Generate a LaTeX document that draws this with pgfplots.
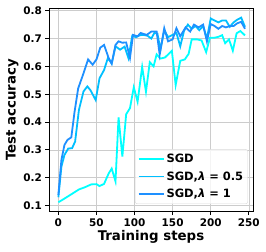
\documentclass[border=0pt]{standalone}
\usepackage{fontspec}
\setmainfont{DejaVu Sans}
\usepackage{pgfplots}
\pgfplotsset{compat=1.18}
\definecolor{cSGD}{RGB}{0,255,255}
\definecolor{cHalf}{RGB}{0,191,255}
\definecolor{cOne}{RGB}{30,144,255}
\begin{document}
\begin{tikzpicture}
\path[use as bounding box] (-49bp,-40.3bp) rectangle (217bp,211.7bp);
\begin{axis}[
  at={(0,0)}, anchor=south west,
  scale only axis, width=204bp, height=203.4bp,
  xmin=-12.3, xmax=255.5, ymin=0.078, ymax=0.8086,
  xtick={0,50,100,150,200,250},
  ytick={0.1,0.2,0.3,0.4,0.5,0.6,0.7,0.8},
  grid=major, major grid style={gray!40, line width=0.6bp},
  axis line style={black, line width=0.8bp},
  tick align=outside, tick pos=left, major tick length=3.5bp,
  tick style={black, line width=0.8bp},
  ticklabel style={font=\fontsize{10.5}{12}\selectfont\bfseries},
  /pgf/number format/assume math mode=true,
  yticklabel style={/pgf/number format/.cd, fixed, fixed zerofill, precision=1},
  xlabel={Training steps}, ylabel={Test accuracy},
  label style={font=\fontsize{13.4}{15}\selectfont\bfseries},
  xlabel style={at={(axis description cs:0.5,-0.123)}, anchor=center},
  ylabel style={at={(axis description cs:-0.181,0.5)}, anchor=center},
  legend style={at={(axis description cs:0.975,0.038)}, anchor=south east,
    font=\fontsize{11.5}{13}\selectfont\bfseries, draw=gray!30, fill=white,
    fill opacity=0.8, text opacity=1, rounded corners=2bp, row sep=3.5bp, inner sep=2.5bp},
  legend cell align=left,
  legend image code/.code={\draw[#1, line width=1.8bp] (0bp,0bp) -- (25bp,0bp);},
]
\addplot[cSGD, line width=1.8bp] coordinates {
(0,0.112)(5,0.12)(12,0.132)(19,0.144)(27,0.158)(35,0.166)(43,0.176)(50,0.177)(54,0.170)(60,0.178)(66,0.215)(70,0.233)(75,0.187)(79,0.417)(84,0.276)(89,0.428)(94,0.45)(99,0.525)(104,0.473)(110,0.598)(115,0.509)(120,0.615)(125,0.6)(129,0.643)(134,0.628)(140,0.632)(149,0.656)(154,0.533)(160,0.62)(166,0.625)(171,0.645)(175,0.697)(182,0.697)(188,0.693)(194,0.651)(199,0.703)(205,0.703)(210,0.706)(215,0.712)(219,0.683)(224,0.697)(229,0.656)(234,0.719)(239,0.727)(245,0.711)
};
\addlegendentry{SGD}
\addplot[cHalf, line width=1.8bp] coordinates {
(0,0.13)(4,0.24)(8,0.282)(13,0.305)(18,0.306)(22,0.33)(27,0.444)(33,0.51)(38,0.528)(42,0.515)(49,0.479)(54,0.557)(60,0.587)(65,0.63)(70,0.61)(75,0.672)(81,0.66)(87,0.671)(92,0.63)(97,0.71)(102,0.705)(107,0.712)(112,0.713)(117,0.71)(122,0.7)(126,0.72)(130,0.718)(134,0.66)(139,0.73)(144,0.705)(150,0.713)(155,0.72)(160,0.672)(165,0.728)(170,0.75)(175,0.735)(180,0.745)(185,0.73)(190,0.745)(195,0.70)(200,0.772)(205,0.765)(210,0.758)(215,0.765)(220,0.765)(225,0.742)(230,0.758)(235,0.768)(240,0.775)(245,0.742)
};
\addlegendentry{SGD,\textit{λ} = 0.5}
\addplot[cOne, line width=1.8bp] coordinates {
(0,0.138)(4,0.264)(8,0.318)(12,0.336)(17,0.345)(21,0.432)(26,0.521)(33,0.575)(39,0.625)(45,0.606)(50,0.625)(55,0.667)(60,0.677)(66,0.63)(70,0.61)(75,0.677)(79,0.69)(84,0.685)(89,0.686)(94,0.63)(98,0.713)(104,0.708)(108,0.72)(116,0.713)(122,0.725)(129,0.725)(133,0.642)(139,0.737)(144,0.69)(150,0.697)(155,0.737)(160,0.708)(167,0.74)(173,0.725)(178,0.75)(184,0.74)(190,0.75)(195,0.69)(200,0.752)(205,0.745)(210,0.735)(215,0.745)(220,0.74)(225,0.745)(230,0.745)(235,0.755)(240,0.76)(245,0.735)
};
\addlegendentry{SGD,\textit{λ} = 1}
\end{axis}
\end{tikzpicture}
\end{document}
